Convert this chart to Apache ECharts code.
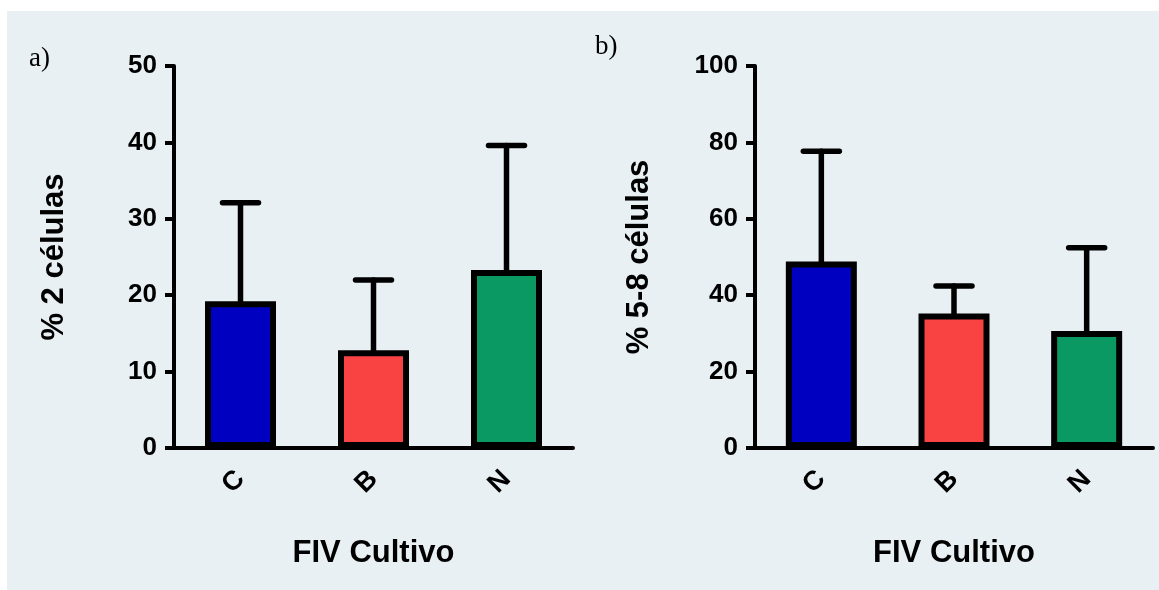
<!DOCTYPE html>
<html>
<head>
<meta charset="utf-8">
<script src="https://cdn.jsdelivr.net/npm/echarts@6/dist/echarts.min.js"></script>
<style>
  html, body { margin: 0; padding: 0; background: #fff; }
  #myChart { width: 1159px; height: 590px; }
</style>
</head>
<body>
<div id="myChart"></div>
<script>
// categorias do cultivo
var categorias = ['C', 'B', 'N'];
// a) % 2 células: média e topo da barra de erro
var media2cel = [19.2, 12.8, 23.3];
var topo2cel = [32.1, 22.0, 39.6];
// b) % 5-8 células
var media58cel = [48.8, 35.2, 30.6];
var topo58cel = [77.7, 42.4, 52.4];
var cores = ['#0000C0', '#F94343', '#0A9963'];

var fonte = '"Liberation Sans", Arial, sans-serif';

function barras(media, idx) {
	return {
		type: 'bar',
		xAxisIndex: idx,
		yAxisIndex: idx,
		barWidth: 71,
		z: 3,
		data: media.map(function (v, i) {
			return { value: v, itemStyle: { color: cores[i] } };
		}),
		itemStyle: { borderColor: '#000', borderWidth: 6 }
	};
}

function erros(media, topo, idx) {
	return {
		type: 'custom',
		xAxisIndex: idx,
		yAxisIndex: idx,
		z: 2,
		data: media.map(function (v, i) { return [i, v, topo[i]]; }),
		renderItem: function (params, api) {
			var base = api.coord([api.value(0), api.value(1)]);
			var top = api.coord([api.value(0), api.value(2)]);
			var st = { stroke: '#000', lineWidth: 5.5, lineCap: 'round' };
			return {
				type: 'group',
				children: [
					{ type: 'line', shape: { x1: base[0], y1: base[1], x2: top[0], y2: top[1] }, style: st },
					{ type: 'line', shape: { x1: top[0] - 18, y1: top[1], x2: top[0] + 18, y2: top[1] }, style: st }
				]
			};
		}
	};
}

function eixoX(idx) {
	return {
		type: 'category',
		gridIndex: idx,
		data: categorias,
		name: 'FIV Cultivo',
		nameLocation: 'middle',
		nameGap: 90,
		nameTextStyle: { fontFamily: fonte, fontWeight: 'bold', fontSize: 31, color: '#000' },
		axisLine: { lineStyle: { color: '#000', width: 4 } },
		axisTick: { alignWithLabel: true, length: 11, lineStyle: { width: 4, color: '#000' } },
		axisLabel: { rotate: 45, margin: 27, fontFamily: fonte, fontWeight: 'bold', fontSize: 27, color: '#000' }
	};
}

function eixoY(idx, max, intervalo, nome, gap) {
	return {
		type: 'value',
		gridIndex: idx,
		min: 0,
		max: max,
		interval: intervalo,
		name: nome,
		nameLocation: 'middle',
		nameGap: gap,
		nameTextStyle: { fontFamily: fonte, fontWeight: 'bold', fontSize: 31, color: '#000' },
		splitLine: { show: false },
		axisLine: { show: true, lineStyle: { color: '#000', width: 4 } },
		axisTick: { show: true, length: 9, lineStyle: { width: 4, color: '#000' } },
		axisLabel: { margin: 17, fontFamily: fonte, fontWeight: 'bold', fontSize: 26, color: '#000' }
	};
}

var myChart = echarts.init(document.getElementById('myChart'));
myChart.setOption({
	backgroundColor: '#fff',
	animation: false,
	graphic: [{
		type: 'rect',
		silent: true,
		z: -10,
		shape: { x: 7, y: 11, width: 1152, height: 579 },
		style: { fill: '#E8F0F4' }
	}],
	title: [
		{ text: 'a)', left: 24, top: 40, textStyle: { fontFamily: '"Liberation Serif", serif', fontWeight: 'normal', fontSize: 27, color: '#000' } },
		{ text: 'b)', left: 590, top: 28, textStyle: { fontFamily: '"Liberation Serif", serif', fontWeight: 'normal', fontSize: 27, color: '#000' } }
	],
	grid: [
		{ left: 174, right: 586, top: 66, bottom: 142 },
		{ left: 755, right: 6, top: 66, bottom: 142 }
	],
	xAxis: [eixoX(0), eixoX(1)],
	yAxis: [eixoY(0, 50, 10, '% 2 células', 104), eixoY(1, 100, 20, '% 5-8 células', 100)],
	series: [
		erros(media2cel, topo2cel, 0),
		barras(media2cel, 0),
		erros(media58cel, topo58cel, 1),
		barras(media58cel, 1)
	]
});
</script>
</body>
</html>
